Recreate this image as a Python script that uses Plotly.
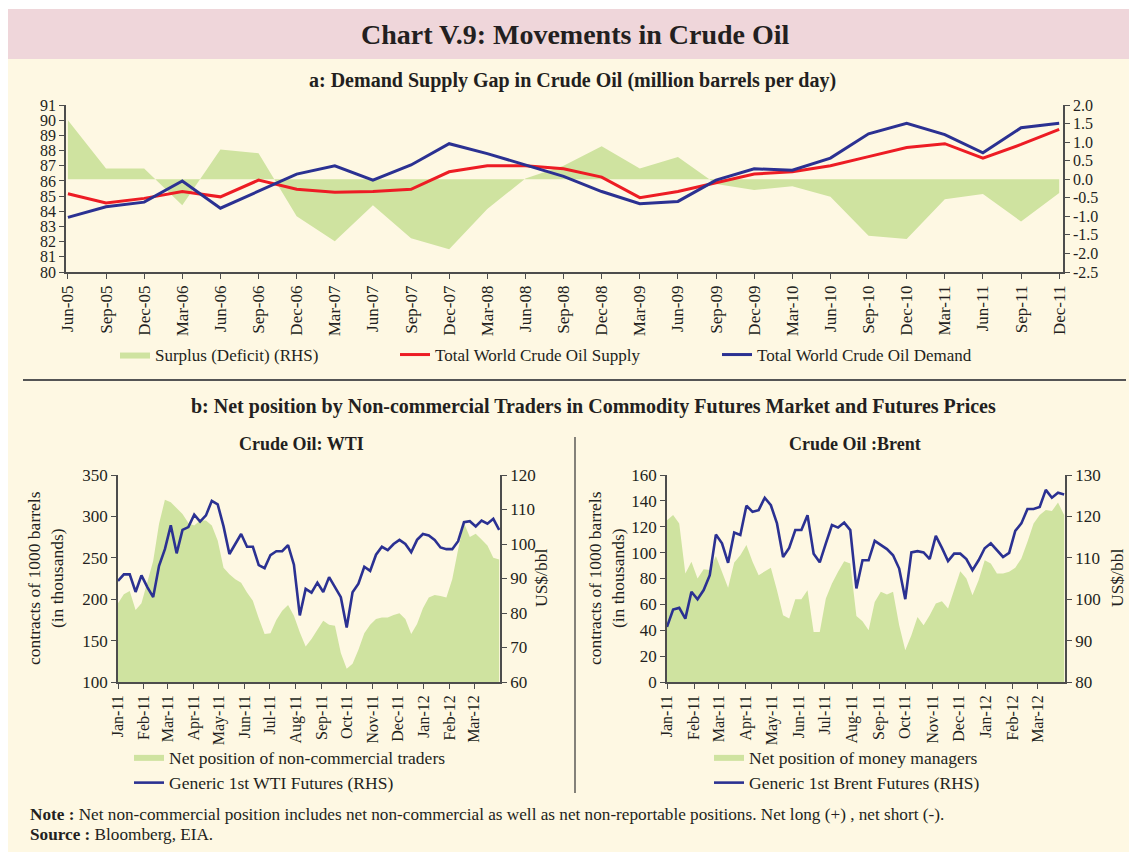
import pandas as pd
import plotly.graph_objects as go

# ---------------- data: panel a (quarterly) ----------------
quarters = ["Jun-05", "Sep-05", "Dec-05", "Mar-06", "Jun-06", "Sep-06", "Dec-06", "Mar-07",
            "Jun-07", "Sep-07", "Dec-07", "Mar-08", "Jun-08", "Sep-08", "Dec-08", "Mar-09",
            "Jun-09", "Sep-09", "Dec-09", "Mar-10", "Jun-10", "Sep-10", "Dec-10", "Mar-11",
            "Jun-11", "Sep-11", "Dec-11"]
demand = [83.6, 84.3, 84.6, 86.0, 84.2, 85.3, 86.45, 87.0, 86.05, 87.05, 88.45, 87.8, 87.05,
          86.3, 85.3, 84.5, 84.65, 86.05, 86.8, 86.7, 87.5, 89.1, 89.8, 89.05, 87.85, 89.5, 89.8]
supply = [85.15, 84.55, 84.85, 85.3, 84.95, 86.05, 85.45, 85.25, 85.3, 85.45, 86.6, 87.0, 87.0,
          86.8, 86.25, 84.9, 85.3, 85.9, 86.45, 86.6, 87.0, 87.6, 88.2, 88.45, 87.5, 88.4, 89.4]
surplus = [1.59, 0.29, 0.29, -0.70, 0.80, 0.70, -1.0, -1.67, -0.70, -1.59, -1.89, -0.80, 0.02,
           0.36, 0.89, 0.29, 0.6, -0.13, -0.29, -0.19, -0.47, -1.52, -1.61, -0.54, -0.4, -1.14, -0.37]
rhs_ticks = [-2.5, -2.0, -1.5, -1.0, -0.5, 0.0, 0.5, 1.0, 1.5, 2.0]
rhs_labels = ["-2.5", "-2.0", "-1.5", "-1.0", "-0.5", "0.0", "0.5", "1.0", "1.5", "2.0"]

# ---------------- data: panel b (weekly) ----------------
weeks = pd.date_range("2011-01-01", periods=66, freq="7D")
wti_net = [195, 206, 210, 187, 195, 222, 246, 291, 320, 317, 310, 303, 292, 289, 295, 295, 289,
           271, 238, 230, 224, 220, 208, 198, 177, 158, 159, 175, 186, 193, 180, 160, 143, 152,
           163, 174, 169, 168, 135, 116, 122, 139, 159, 169, 176, 178, 178, 181, 183, 176, 158,
           170, 189, 202, 205, 204, 202, 224, 260, 292, 275, 279, 272, 265, 250, 248]
wti_price = [89.3, 91.2, 91.2, 86.1, 90.9, 87.5, 84.6, 93.7, 98.5, 105.4, 97.3, 104.1, 104.9,
             108.5, 106.5, 108.3, 112.5, 111.5, 105.1, 97.1, 100, 102.9, 99.2, 99.2, 93.9, 93,
             96.8, 97.9, 97.9, 99.7, 94, 79.3, 87, 85.9, 88.8, 86.1, 90.4, 87.5, 84.6, 75.8, 86,
             88.5, 93.4, 92.2, 96.9, 99.2, 98.2, 100, 101.2, 100, 97.6, 101.2, 102.9, 102.5,
             101.2, 99, 98.5, 98.5, 100.8, 106.3, 106.6, 105.1, 106.8, 105.9, 107.3, 104.1]
brent_net = [125, 129, 122.6, 83.9, 92.9, 80, 87.2, 86.5, 97.3, 85.2, 72.8, 92.4, 98, 105.8,
             92.9, 82.6, 85.7, 88.3, 71, 51.6, 49, 64, 64, 71, 38.7, 38.7, 64.5, 76.1, 85.2,
             93.4, 91.6, 51.1, 47, 40, 61.9, 69.7, 67.6, 69.7, 43.9, 24.5, 36.1, 50.3, 43.9,
             51.6, 60.6, 62.5, 56.8, 71, 85.7, 80, 67.1, 78.7, 94.2, 91.6, 83.9, 83.9, 85.2,
             88.3, 95.5, 108.4, 122.6, 129, 132.9, 132.1, 138.8, 129]
brent_price = [93.3, 97.5, 97.9, 95.3, 101.8, 100, 102.2, 105.8, 115.6, 113.5, 108.8, 116.1,
               115.5, 122.6, 121.1, 121.5, 124.5, 122.7, 118.3, 110.2, 112.4, 116.7, 116.7,
               120.3, 111, 108.9, 113.5, 117.9, 117.3, 118.5, 116.7, 102.6, 109.4, 109.4, 114.1,
               113.1, 112.1, 110.6, 107.4, 100, 111.3, 111.6, 111.3, 109.7, 115.3, 112.4, 109.2,
               111, 111, 109.7, 107, 109.4, 112.3, 113.5, 111.9, 110.2, 111.2, 116.5, 118.3,
               121.8, 121.8, 122.3, 126.4, 124.5, 125.7, 125.3]
month_ticks = ["2011-01-01", "2011-02-01", "2011-03-01", "2011-04-01", "2011-05-01", "2011-06-01",
               "2011-07-01", "2011-08-01", "2011-09-01", "2011-10-01", "2011-11-01", "2011-12-01",
               "2012-01-01", "2012-02-01", "2012-03-01"]
month_labels = ["Jan-11", "Feb-11", "Mar-11", "Apr-11", "May-11", "Jun-11", "Jul-11", "Aug-11",
                "Sep-11", "Oct-11", "Nov-11", "Dec-11", "Jan-12", "Feb-12", "Mar-12"]

# ---------------- style ----------------
W, H = 1129, 852
FONT = "Liberation Serif, Times New Roman, serif"
TXT = "#231F20"
GREEN = "#CFE3A0"
RED = "#ED1C24"
BLUE = "#2B3192"
AX = "#4D4D4D"
CREAM = "#FEF8E3"
PINK = "#EFD6DA"


def px(x):
    return x / W


def py(y):
    return 1 - y / H


fig = go.Figure()

# panel a
fig.add_trace(go.Scatter(x=quarters, y=surplus, name="Surplus (Deficit) (RHS)", mode="lines",
                         fill="tozeroy", fillcolor=GREEN, line=dict(width=0, color=GREEN),
                         xaxis="x", yaxis="y", legend="legend", showlegend=True))
fig.add_trace(go.Scatter(x=quarters, y=supply, name="Total World Crude Oil Supply", mode="lines",
                         line=dict(color=RED, width=3), xaxis="x", yaxis="y2", legend="legend4",
                         showlegend=True))
fig.add_trace(go.Scatter(x=quarters, y=demand, name="Total World Crude Oil Demand", mode="lines",
                         line=dict(color=BLUE, width=3), xaxis="x", yaxis="y2", legend="legend5",
                         showlegend=True))

# panel b - WTI
fig.add_trace(go.Scatter(x=weeks, y=wti_net, name="Net position of non-commercial traders",
                         mode="lines", fill="tozeroy", fillcolor=GREEN,
                         line=dict(width=0, color=GREEN), xaxis="x2", yaxis="y3",
                         legend="legend2", showlegend=True))
fig.add_trace(go.Scatter(x=weeks, y=wti_price, name="Generic 1st WTI Futures (RHS)", mode="lines",
                         line=dict(color=BLUE, width=2.6), xaxis="x2", yaxis="y4",
                         legend="legend2", showlegend=True))

# panel b - Brent
fig.add_trace(go.Scatter(x=weeks, y=brent_net, name="Net position of money managers",
                         mode="lines", fill="tozeroy", fillcolor=GREEN,
                         line=dict(width=0, color=GREEN), xaxis="x3", yaxis="y5",
                         legend="legend3", showlegend=True))
fig.add_trace(go.Scatter(x=weeks, y=brent_price, name="Generic 1st Brent Futures (RHS)",
                         mode="lines", line=dict(color=BLUE, width=2.6), xaxis="x3", yaxis="y6",
                         legend="legend3", showlegend=True))

axcommon = dict(showline=True, linecolor=AX, linewidth=1.6, ticks="outside", ticklen=5,
                tickcolor=AX, tickwidth=1.2, showgrid=False, zeroline=False, automargin=False)
f_top = dict(family=FONT, size=16, color=TXT)
f_topx = dict(family=FONT, size=17, color=TXT)
f_bot = dict(family=FONT, size=17, color=TXT)
f_botx = dict(family=FONT, size=16, color=TXT)

top_dom = [py(272), py(105)]
bot_dom = [py(682), py(475)]

legcommon = dict(bgcolor="rgba(0,0,0,0)", xanchor="left", yanchor="middle", borderwidth=0)
leg_top_font = dict(family=FONT, size=17, color=TXT)
leg_bot_font = dict(family=FONT, size=17.5, color=TXT)

fig.update_layout(
    width=W, height=H, margin=dict(l=0, r=0, t=0, b=0, pad=0, autoexpand=False),
    showlegend=True, paper_bgcolor=CREAM, plot_bgcolor="rgba(0,0,0,0)",
    font=dict(family=FONT, color=TXT),
    xaxis=dict(axcommon, domain=[px(66), px(1063)], type="category", range=[-0.05, 26.1],
               tickangle=-90, anchor="y", tickfont=f_topx),
    yaxis=dict(axcommon, domain=top_dom, side="right", range=[-2.5, 2.0], tickvals=rhs_ticks,
               ticktext=rhs_labels, anchor="x", tickfont=f_top),
    yaxis2=dict(axcommon, overlaying="y", side="left", range=[80, 91], dtick=1, anchor="x",
                tickfont=f_top),
    xaxis2=dict(axcommon, domain=[px(118), px(500)], type="date",
                range=["2011-01-01", "2012-04-01"], tickvals=month_ticks, ticktext=month_labels,
                tickangle=-90, anchor="y3", tickfont=f_botx),
    yaxis3=dict(axcommon, domain=bot_dom, range=[100, 350], dtick=50, anchor="x2", side="left",
                tickfont=f_bot),
    yaxis4=dict(axcommon, overlaying="y3", side="right", range=[60, 120], dtick=10, anchor="x2",
                tickfont=f_bot),
    xaxis3=dict(axcommon, domain=[px(667), px(1065)], type="date",
                range=["2011-01-01", "2012-04-01"], tickvals=month_ticks, ticktext=month_labels,
                tickangle=-90, anchor="y5", tickfont=f_botx),
    yaxis5=dict(axcommon, domain=bot_dom, range=[0, 160], dtick=20, anchor="x3", side="left",
                tickfont=f_bot),
    yaxis6=dict(axcommon, overlaying="y5", side="right", range=[80, 130], dtick=10, anchor="x3",
                tickfont=f_bot),
    legend=dict(legcommon, x=px(115), y=py(355), font=leg_top_font),
    legend4=dict(legcommon, x=px(395), y=py(355), font=leg_top_font),
    legend5=dict(legcommon, x=px(717), y=py(355), font=leg_top_font),
    legend2=dict(legcommon, x=px(129), y=py(770), tracegroupgap=0, font=leg_bot_font),
    legend3=dict(legcommon, x=px(709), y=py(770), tracegroupgap=0, font=leg_bot_font),
)

shapes = [
    dict(type="rect", xref="paper", yref="paper", x0=0, x1=1, y0=py(852), y1=1,
         fillcolor="#FFFFFF", line=dict(width=0), layer="below"),
    dict(type="rect", xref="paper", yref="paper", x0=px(8), x1=1, y0=py(852), y1=py(59),
         fillcolor=CREAM, line=dict(width=0), layer="below"),
    dict(type="rect", xref="paper", yref="paper", x0=px(8), x1=1, y0=py(59), y1=py(9),
         fillcolor=PINK, line=dict(width=0), layer="below"),
    dict(type="line", xref="paper", yref="paper", x0=px(23), x1=px(1126), y0=py(380),
         y1=py(380), line=dict(color="#555555", width=2)),
    dict(type="line", xref="paper", yref="paper", x0=px(575), x1=px(575), y0=py(437), y1=py(793),
         line=dict(color="#333333", width=1.2)),
]
fig.update_layout(shapes=shapes)

ann = [
    dict(text="<b>Chart V.9: Movements in Crude Oil</b>", x=575, y=34, size=28),
    dict(text="<b>a: Demand Supply Gap in Crude Oil (million barrels per day)</b>", x=572,
         y=80, size=20),
    dict(text="<b>b: Net position by Non-commercial Traders in Commodity Futures Market and Futures Prices</b>",
         x=593, y=406, size=20),
    dict(text="<b>Crude Oil: WTI</b>", x=301, y=444, size=18),
    dict(text="<b>Crude Oil :Brent</b>", x=855, y=444, size=18),
]
annotations = []
for a in ann:
    annotations.append(dict(text=a["text"], x=px(a["x"]), y=py(a["y"]), xref="paper",
                            yref="paper", xanchor="center", yanchor="middle", showarrow=False,
                            font=dict(family=FONT, size=a["size"], color=TXT)))

for txt, x in [("contracts of 1000 barrels<br>(in thousands)", 45),
               ("US$/bbl", 541),
               ("contracts of 1000 barrels<br>(in thousands)", 606),
               ("US$/bbl", 1117)]:
    annotations.append(dict(text=txt, x=px(x), y=py(578), xref="paper", yref="paper",
                            xanchor="center", yanchor="middle", showarrow=False, textangle=-90,
                            font=dict(family=FONT, size=17.5, color=TXT)))

annotations.append(dict(
    text="<b>Note :</b> Net non-commercial position includes net non-commercial as well as net non-reportable positions. Net long (+) , net short (-).",
    x=px(28), y=py(814), xref="paper", yref="paper", xanchor="left", yanchor="middle",
    showarrow=False, font=dict(family=FONT, size=17.2, color=TXT)))
annotations.append(dict(
    text="<b>Source :</b> Bloomberg, EIA.",
    x=px(28), y=py(834), xref="paper", yref="paper", xanchor="left", yanchor="middle",
    showarrow=False, font=dict(family=FONT, size=17.2, color=TXT)))
fig.update_layout(annotations=annotations)

# pin the figure to the top-left corner of the 1129x852 window (no body margin / scrollbars)
pin = ("document.body.style.margin='0';document.body.style.overflow='hidden';"
       "var d=document.getElementById('{plot_id}');d.style.position='fixed';"
       "d.style.left='0px';d.style.top='0px';")
fig.write_html("out.html", post_script=pin, config={"displayModeBar": False})
